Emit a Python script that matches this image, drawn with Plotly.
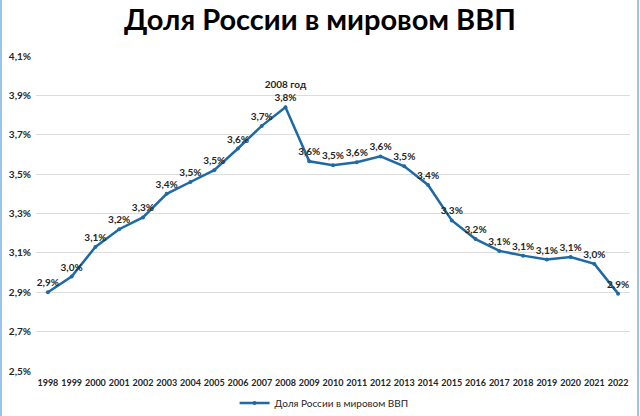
import plotly.graph_objects as go

years = [str(y) for y in range(1998, 2023)]
share = [2.90, 2.98, 3.13, 3.22, 3.28, 3.40, 3.46, 3.52, 3.63, 3.745, 3.84,
         3.565, 3.545, 3.56, 3.59, 3.54, 3.445, 3.265, 3.17, 3.11, 3.086,
         3.066, 3.079, 3.044, 2.893]
y_ticks = [2.5, 2.7, 2.9, 3.1, 3.3, 3.5, 3.7, 3.9, 4.1]
series_name = "Доля России в мировом ВВП"
note_year = "2008"

FONT = "Lato, Open Sans, sans-serif"
BLUE = "#1f6aa5"


def fmt(v):
    return ("%.1f%%" % v).replace(".", ",")


labels = []
for yr, v in zip(years, share):
    t = fmt(v)
    if yr == note_year:
        t = yr + " год<br>" + t
    labels.append("<b>" + t + "</b>")

fig = go.Figure()
fig.add_trace(go.Scatter(
    x=years, y=share,
    mode="lines+markers+text",
    name=series_name,
    line=dict(color=BLUE, width=2.5),
    marker=dict(color=BLUE, size=4),
    text=labels,
    textposition="top center",
    textfont=dict(family=FONT, size=10, color="#262626"),
    cliponaxis=False,
))

fig.update_layout(
    width=640, height=416,
    margin=dict(l=36, r=10, t=56, b=45, autoexpand=False),
    paper_bgcolor="white", plot_bgcolor="white",
    title=dict(text="<b>" + series_name + "</b>", x=0.5, xanchor="center",
               y=0.952, yanchor="middle",
               font=dict(family=FONT, size=29, color="black")),
    font=dict(family=FONT, size=9, color="#262626"),
    showlegend=True,
    legend=dict(orientation="h", x=0.485, xanchor="center",
                yref="container", y=0.031, yanchor="middle",
                font=dict(family=FONT, size=10, color="#262626")),
    xaxis=dict(type="category", range=[-0.5, len(years) - 0.5],
               showgrid=False, showline=False, ticks="", automargin=False,
               ticklabelstandoff=5,
               tickfont=dict(family=FONT, size=9, color="#262626"),
               tickprefix="<b>", ticksuffix="</b>", tickangle=0),
    yaxis=dict(range=[2.5, 4.1], tickvals=y_ticks,
               ticktext=["<b>" + fmt(v) + "</b>" for v in y_ticks],
               showgrid=True, gridcolor="#dcdcdc", gridwidth=1,
               zeroline=False, showline=False, ticks="", automargin=False,
               ticklabelstandoff=4,
               tickfont=dict(family=FONT, size=10, color="#262626")),
    shapes=[
        dict(type="line", xref="paper", yref="paper", x0=-35 / 594, x1=-35 / 594,
             y0=-45 / 315, y1=1 + 56 / 315, line=dict(color="#9dc3e6", width=2)),
        dict(type="line", xref="paper", yref="paper", x0=1 + 8 / 594, x1=1 + 8 / 594,
             y0=-45 / 315, y1=1 + 56 / 315, line=dict(color="#9dc3e6", width=2)),
    ],
)

# the page body has a default 8px margin; drop it so the chart fills the window
fig.write_html("out.html", config={"displayModeBar": False},
               post_script="document.body.style.margin='0px';")
